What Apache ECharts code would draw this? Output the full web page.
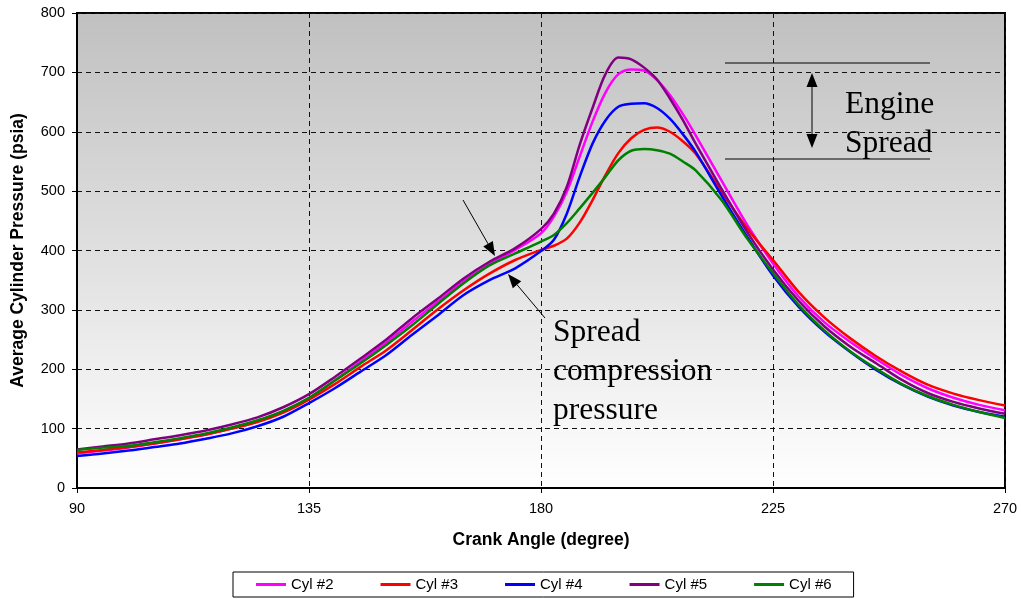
<!DOCTYPE html>
<html>
<head>
<meta charset="utf-8">
<script src="https://cdn.jsdelivr.net/npm/echarts@6/dist/echarts.min.js"></script>
<style>html,body{margin:0;padding:0;background:#fff;}#c{width:1021px;height:599px;}</style>
</head>
<body>
<div id="c"></div>
<script>
const crankAngle = [90,95,100,105,110,115,120,125,130,135,140,145,150,155,160,165,170,175,180,182.5,185,187.5,190,192.5,195,197.5,200,202.5,205,207.5,210,215,220,225,230,235,240,245,250,255,260,265,270];
const cyl2 = [58,63,68,75,82,90,100,112,129,151,181,213,245,280,314,348,377,401,429,457,499,558,617,666,697,705,703,687,662,630,594,518,443,378,322,279,246,217,190,168,152,140,131];
const cyl3 = [60,64,69,75,82,90,100,111,127,149,175,204,232,266,301,333,361,384,401,408,420,447,485,527,564,589,603,607,600,584,563,499,437,384,330,287,252,222,196,174,159,148,139];
const cyl4 = [54,58,63,69,75,83,92,104,120,143,168,196,224,258,291,325,350,370,399,418,462,524,580,619,642,647,648,640,622,596,566,493,423,358,305,263,229,199,174,154,139,128,120];
const cyl5 = [65,70,75,82,89,97,107,119,136,158,187,218,250,286,319,353,381,404,436,462,507,578,640,697,725,722,708,688,656,620,580,504,431,368,315,272,238,210,182,160,145,134,125];
const cyl6 = [64,68,71,77,84,92,102,114,130,152,181,210,241,274,310,345,375,395,415,426,446,471,497,524,552,568,571,569,563,550,535,485,420,362,308,265,230,201,175,155,140,128,118];
const seriesNames = ['Cyl #2','Cyl #3','Cyl #4','Cyl #5','Cyl #6'];
const seriesValues = [cyl2, cyl3, cyl4, cyl5, cyl6];
const seriesColors = ['#FF00FF','#FF0000','#0000FF','#800080','#008000'];
const xTicks = [90,135,180,225,270];
const yTicks = [0,100,200,300,400,500,600,700,800];

const chart = echarts.init(document.getElementById('c'), null, {renderer:'canvas'});
const font = '"Liberation Sans", Arial, sans-serif';
const serif = '"Liberation Serif", "Times New Roman", serif';

function arrow(x1,y1,x2,y2){
  const dx=x2-x1, dy=y2-y1, L=Math.hypot(dx,dy), ux=dx/L, uy=dy/L;
  const hl=14, hw=5.5;
  const bx=x2-ux*hl, by=y2-uy*hl;
  return [
    {type:'line', shape:{x1:x1,y1:y1,x2:bx,y2:by}, style:{stroke:'#000',lineWidth:1}, z:100},
    {type:'polygon', shape:{points:[[x2,y2],[bx-uy*hw,by+ux*hw],[bx+uy*hw,by-ux*hw]]}, style:{fill:'#000'}, z:100}
  ];
}

const graphics = [].concat(
  [{type:'line', shape:{x1:725,y1:63,x2:930,y2:63}, style:{stroke:'#000',lineWidth:1}, z:100},
   {type:'line', shape:{x1:725,y1:159,x2:930,y2:159}, style:{stroke:'#000',lineWidth:1}, z:100}],
  arrow(812,110,812,73),
  arrow(812,110,812,148),
  arrow(463,200,495,256),
  arrow(545,318,508,274),
  [{type:'text', left:845, top:85, style:{text:'Engine\nSpread', font:'31.5px '+serif, fill:'#000', lineHeight:39}, z:100},
   {type:'text', left:553, top:313, style:{text:'Spread\ncompression\npressure', font:'31.5px '+serif, fill:'#000', lineHeight:39}, z:100}]
);

const option = {
  animation:false,
  backgroundColor:'#fff',
  textStyle:{fontFamily:font},
  grid:{left:77,right:16,top:13,bottom:111,show:true,borderColor:'#000',borderWidth:2,
    containLabel:false,outerBoundsMode:'none',
    backgroundColor:{type:'linear',x:0,y:0,x2:0,y2:1,colorStops:[{offset:0,color:'#c0c0c0'},{offset:1,color:'#ffffff'}]}},
  legend:{bottom:2,left:233,data:seriesNames,itemWidth:30,itemHeight:3,itemGap:47,icon:'rect',
    borderColor:'#000',borderWidth:1,padding:[5,22,5,23],
    textStyle:{fontFamily:font,fontSize:15,color:'#000'}},
  xAxis:{type:'value',min:90,max:270,interval:45,
    name:'Crank Angle (degree)',nameLocation:'middle',nameGap:43,
    nameTextStyle:{fontFamily:font,fontSize:17.5,fontWeight:'bold',color:'#000'},
    axisLine:{show:true,lineStyle:{color:'#000',width:2}},
    axisTick:{show:true,length:5,lineStyle:{color:'#000'}},
    axisLabel:{fontFamily:font,fontSize:14.5,color:'#000',margin:13,formatter:v=>xTicks.includes(v)?String(v):''},
    splitLine:{show:true,lineStyle:{color:'#111',type:[5,4],width:1}}},
  yAxis:{type:'value',min:0,max:800,interval:100,
    name:'Average Cylinder Pressure (psia)',nameLocation:'middle',nameGap:50,
    nameTextStyle:{fontFamily:font,fontSize:17.5,fontWeight:'bold',color:'#000'},
    axisLine:{show:true,lineStyle:{color:'#000',width:2}},
    axisTick:{show:true,length:5,lineStyle:{color:'#000'}},
    axisLabel:{fontFamily:font,fontSize:14.5,color:'#000',margin:12,formatter:v=>yTicks.includes(v)?String(v):''},
    splitLine:{show:true,lineStyle:{color:'#111',type:[5,4],width:1}}},
  series: seriesNames.map((n,i)=>({
    name:n,type:'line',showSymbol:false,symbol:'none',smooth:0.3,
    data:crankAngle.map((x,j)=>[x,seriesValues[i][j]]),
    lineStyle:{color:seriesColors[i],width:2.5},itemStyle:{color:seriesColors[i]},z:3+i
  })),
  graphic:graphics
};
chart.setOption(option);
</script>
</body>
</html>
